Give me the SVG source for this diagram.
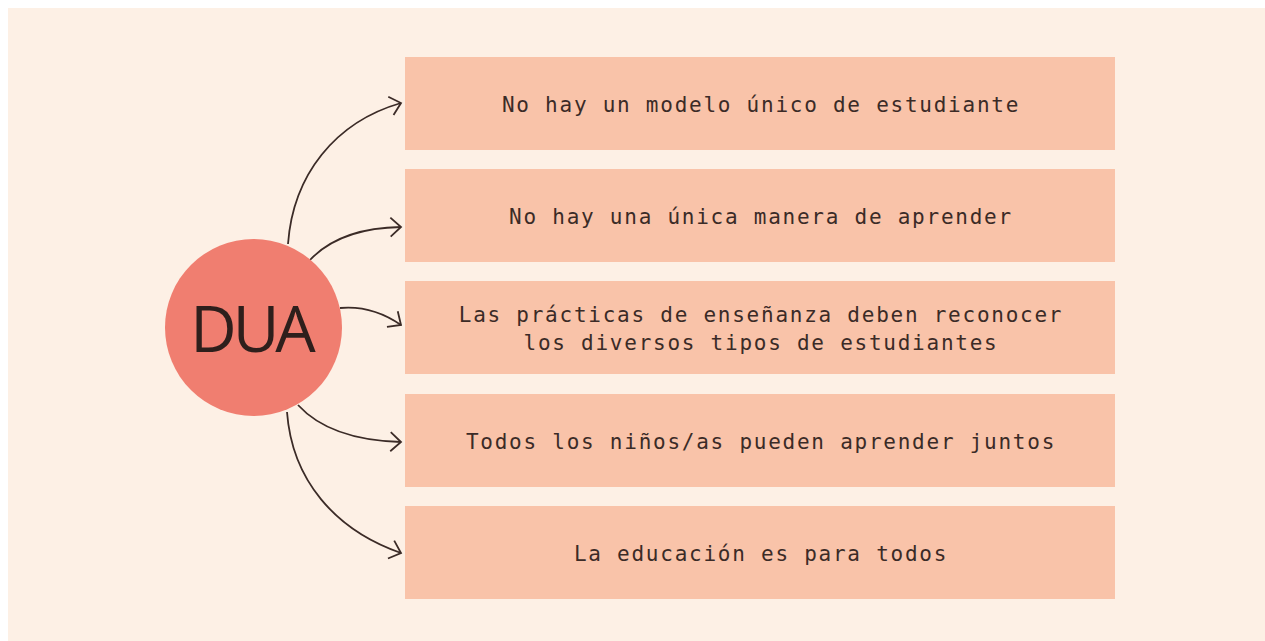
<svg xmlns="http://www.w3.org/2000/svg" width="1265" height="641" viewBox="0 0 1265 641">
<defs>
<style>
.box{fill:#f9c3a9}
.lbl{font-family:"DejaVu Sans Mono","Liberation Mono",monospace;font-size:21px;letter-spacing:1.75px;fill:#3b2b27;text-anchor:middle}
.conn{fill:none;stroke:#3b2b27;stroke-width:1.8;marker-end:url(#arr)}
</style>
<marker id="arr" markerUnits="userSpaceOnUse" markerWidth="26" markerHeight="26" viewBox="-13 -13 26 26" refX="0" refY="0" orient="auto">
<path d="M-10.5,-9.5 L0,0 L-10.5,9.5" fill="none" stroke="#3b2b27" stroke-width="1.8" stroke-linejoin="miter"/>
</marker>
</defs>
<rect x="8" y="8" width="1257" height="633" fill="#fdf0e5"/>
<g id="connectors">
<path class="conn" d="M288,244 C293,175 335,122 401,103"/>
<path class="conn" d="M310,260 Q340,228 401,227"/>
<path class="conn" d="M340,308 Q372,305 401,325"/>
<path class="conn" d="M298,405 Q330,440 401,442"/>
<path class="conn" d="M287,412 C292,480 335,530 401,553"/>
</g>
<g id="dua">
<circle cx="253.5" cy="327.5" r="88.5" fill="#f07e70"/>
<text x="251" y="352" font-family="'Open Sans','Noto Sans',sans-serif" font-size="64" letter-spacing="-4" fill="#2e1f1c" text-anchor="middle">DUA</text>
</g>
<g id="n1"><rect class="box" x="405" y="57" width="710" height="93"/><text class="lbl" x="761" y="112">No hay un modelo único de estudiante</text></g>
<g id="n2"><rect class="box" x="405" y="169" width="710" height="93"/><text class="lbl" x="761" y="224">No hay una única manera de aprender</text></g>
<g id="n3"><rect class="box" x="405" y="281" width="710" height="93"/><text class="lbl" x="761" y="321.5">Las prácticas de enseñanza deben reconocer</text><text class="lbl" x="761" y="350">los diversos tipos de estudiantes</text></g>
<g id="n4"><rect class="box" x="405" y="394" width="710" height="93"/><text class="lbl" x="761" y="449">Todos los niños/as pueden aprender juntos</text></g>
<g id="n5"><rect class="box" x="405" y="506" width="710" height="93"/><text class="lbl" x="761" y="561">La educación es para todos</text></g>
</svg>
